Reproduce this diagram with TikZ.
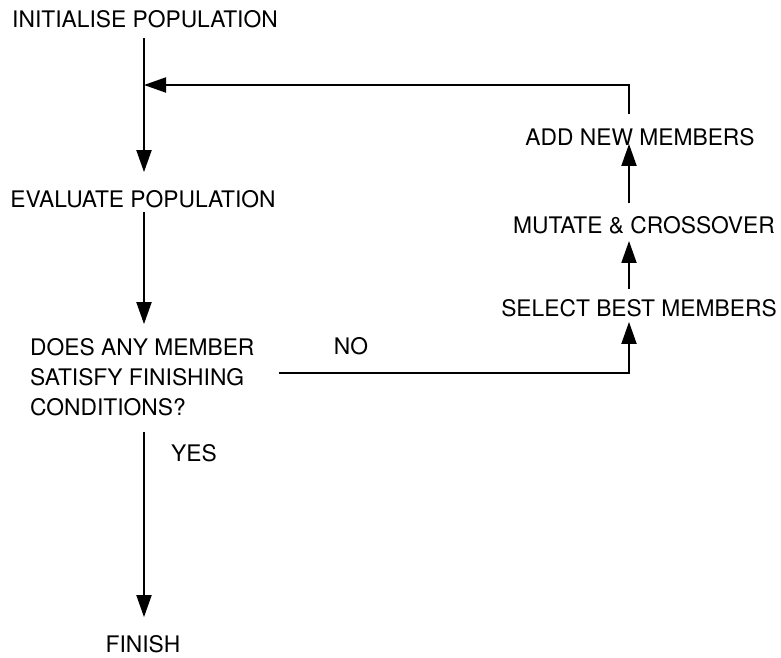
\documentclass[tikz,border=0pt]{standalone}
\usepackage{fontspec}
\setmainfont{TeX Gyre Heros}
\usetikzlibrary{positioning,arrows.meta,calc}

\begin{document}
\begin{tikzpicture}[
  x=1pt, y=-1pt,
  font=\fontsize{22.8}{30}\selectfont,
  >={Triangle[length=22pt, width=15pt]},
  stage/.style={inner sep=0pt, align=center},
  lbl/.style={inner sep=0pt},
  flow/.style={->, line width=1.9pt, draw=black},
]
\useasboundingbox (0,0) rectangle (781,657);

% ---- main column ----
\node[stage] (init) at (145,19) {INITIALISE POPULATION};
\node[stage] (eval) at (143,199) {EVALUATE POPULATION};
\node[stage, align=left, anchor=west] (check) at (30,377)
      {DOES ANY MEMBER\\SATISFY FINISHING\\CONDITIONS?};
\node[stage] (finish) at (143,644) {FINISH};

% ---- right column ----
\node[stage] (select) at (639,308) {SELECT BEST MEMBERS};
\node[stage] (mutate) at (644,225) {MUTATE \& CROSSOVER};
\node[stage] (addnew) at (640,137) {ADD NEW MEMBERS};

% ---- branch labels ----
\node[lbl] (no) at (351,346) {NO};
\node[lbl] (yes) at (194,453) {YES};

\coordinate (spine) at (144,0);
\coordinate (col) at (629,85);

% ---- flows ----
\draw[flow] ($(spine|-init.south)+(0,10)$) -- ($(spine|-eval.north)-(0,18)$);
\draw[flow] ($(spine|-eval.south)+(0,4)$) -- ($(spine|-check.north)-(0,14)$);
\draw[flow] ($(spine|-check.south)+(0,16)$) -- ($(spine|-finish.north)-(0,18)$);
\draw[flow] ($(check.east)+(24,-4)$) -| ($(col|-select.south)+(0,5)$);
\draw[flow] ($(col|-select.north)-(0,10)$) -- ($(col|-mutate.south)+(0,7)$);
\draw[flow] ($(col|-mutate.north)-(0,13)$) -- ($(col|-addnew.south)-(0,2)$);
% loop back to the population
\draw[flow] ($(col|-addnew.north)-(0,14)$) -- (col) -- (spine|-col);
\end{tikzpicture}
\end{document}
